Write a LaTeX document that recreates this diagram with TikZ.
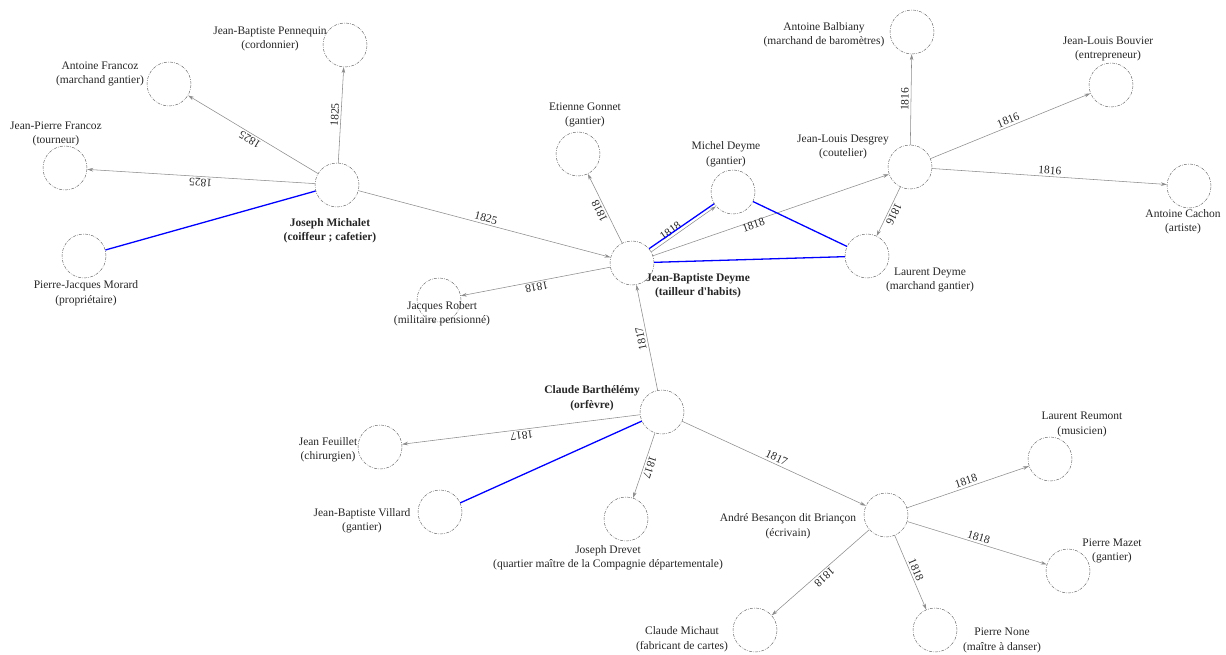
\documentclass[tikz,border=0pt]{standalone}
\usepackage{fontspec}
\setmainfont{Liberation Serif}[Ligatures=TeXOff]
\usetikzlibrary{arrows.meta}
\tikzset{%
    Dperson/.style={shape=circle, draw=black!60, line width=0.45pt,
        dash pattern=on 3pt off 1.2pt on 0.7pt off 1.2pt, minimum size=44pt, inner sep=0pt},
    Dname/.style={align=center, text=black!85, inner sep=0pt, font=\fontsize{11.5}{14.5}\selectfont},
    Dboss/.style={Dname, font=\fontsize{11.5}{14.5}\selectfont\bfseries},
    Dlink/.style={draw=black!45, line width=0.55pt, -{Stealth[length=6pt,width=3.6pt]}},
    Dtie/.style={draw=blue, line width=1.3pt},
    Dyear/.style={sloped, allow upside down, anchor=south, inner sep=2pt, text=black!85,
        font=\fontsize{11.5}{13}\selectfont}
}

\begin{document}
\begin{tikzpicture}[x=1pt,y=-1pt]
    \useasboundingbox (0,0) rectangle (1226,655);

    % persons (circles)
    \path
        (337,185) node [Dperson] (Njm) {}
        (345,45)  node [Dperson] (Njbp) {}
        (169,84)  node [Dperson] (Naf) {}
        (65,168)  node [Dperson] (Njpf) {}
        (84,256)  node [Dperson] (Npjm) {}
        (632,263) node [Dperson] (Njbd) {}
        (578,154) node [Dperson] (Neg) {}
        (733,192) node [Dperson] (Nmd) {}
        (439,300) node [Dperson] (Njr) {}
        (910,167) node [Dperson] (Njld) {}
        (912,32)  node [Dperson] (Nab) {}
        (1111,85) node [Dperson] (Njlb) {}
        (1189,186) node [Dperson] (Nac) {}
        (867,256) node [Dperson] (Nld) {}
        (662,412) node [Dperson] (Ncb) {}
        (380,447) node [Dperson] (Njf) {}
        (440,512) node [Dperson] (Njbv) {}
        (626,519) node [Dperson] (Njdr) {}
        (886,515) node [Dperson] (Nabr) {}
        (1050,459) node [Dperson] (Nlr) {}
        (1068,571) node [Dperson] (Npm) {}
        (935,630) node [Dperson] (Npn) {}
        (755,630) node [Dperson] (Ncm) {};

    % names and trades
    \path
        (330,230.5) node [Dboss] (Tjm) {Joseph Michalet\\(coiffeur ; cafetier)}
        (270,39)    node [Dname] (Tjbp) {Jean-Baptiste Pennequin\\(cordonnier)}
        (100,74)    node [Dname] (Taf) {Antoine Francoz\\(marchand gantier)}
        (56,134)    node [Dname] (Tjpf) {Jean-Pierre Francoz\\(tourneur)}
        (86,293)    node [Dname] (Tpjm) {Pierre-Jacques Morard\\(propriétaire)}
        (698,285.5) node [Dboss] (Tjbd) {Jean-Baptiste Deyme\\(tailleur d'habits)}
        (585,115)   node [Dname] (Teg) {Etienne Gonnet\\(gantier)}
        (726,154.5) node [Dname] (Tmd) {Michel Deyme\\(gantier)}
        (442,313.5) node [Dname] (Tjr) {Jacques Robert\\(militaire pensionné)}
        (843,147)   node [Dname] (Tjld) {Jean-Louis Desgrey\\(coutelier)}
        (824,34.5)  node [Dname] (Tab) {Antoine Balbiany\\(marchand de baromètres)}
        (1108,49)   node [Dname] (Tjlb) {Jean-Louis Bouvier\\(entrepreneur)}
        (1183,221.5) node [Dname] (Tac) {Antoine Cachon\\(artiste)}
        (930,280)   node [Dname] (Tld) {Laurent Deyme\\(marchand gantier)}
        (592,398)   node [Dboss] (Tcb) {Claude Barthélémy\\(orfèvre)}
        (328,449.5) node [Dname] (Tjf) {Jean Feuillet\\(chirurgien)}
        (362,520.5) node [Dname] (Tjbv) {Jean-Baptiste Villard\\(gantier)}
        (608,557.5) node [Dname] (Tjdr) {Joseph Drevet\\(quartier maître de la Compagnie départementale)}
        (788,526)   node [Dname] (Tabr) {André Besançon dit Briançon\\(écrivain)}
        (1082,424.5) node [Dname] (Tlr) {Laurent Reumont\\(musicien)}
        (1112,551)  node [Dname] (Tpm) {Pierre Mazet\\(gantier)}
        (1002,640.5) node [Dname] (Tpn) {Pierre None\\(maître à danser)}
        (682,639)   node [Dname] (Tcm) {Claude Michaut\\(fabricant de cartes)};

    % dated links
    \foreach \cA/\cB/\cY in
            {Njm/Njbp/1825,  Njm/Naf/1825,   Njm/Njpf/1825,  Njm/Njbd/1825,
             Njbd/Neg/1818,  Njbd/Njr/1818,
             Ncb/Njbd/1817,  Ncb/Njf/1817,   Ncb/Njdr/1817,  Ncb/Nabr/1817,
             Nabr/Nlr/1818,  Nabr/Npm/1818,  Nabr/Npn/1818,  Nabr/Ncm/1818,
             Njld/Nab/1816,  Njld/Njlb/1816, Njld/Nac/1816,  Njld/Nld/1816}
        \draw [Dlink] (\cA) -- node [Dyear] {\cY} (\cB);

    \draw [Dlink] (Njbd.30) -- node [Dyear, pos=0.35] {1818} (Nmd.220);
    \draw [Dlink] (Njbd) -- node [Dyear, pos=0.42, anchor=center, yshift=-4pt] {1818} (Njld);

    % family ties
    \foreach \cA/\cB in {Njm/Npjm, Njbd/Nld, Nmd/Nld, Ncb/Njbv}
        \draw [Dtie] (\cA) -- (\cB);
    \draw [Dtie] (Njbd.40) -- (Nmd.212);

\end{tikzpicture}
\end{document}
